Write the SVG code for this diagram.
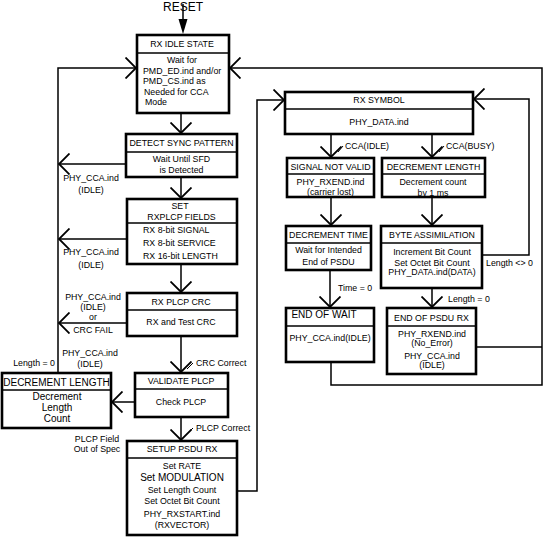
<svg xmlns="http://www.w3.org/2000/svg" width="545" height="537" viewBox="0 0 545 537">
<defs>
<style>
.box{fill:#fff;stroke:#000;stroke-width:2.6}
.div{stroke:#000;stroke-width:1.4}
.ln{fill:none;stroke:#000;stroke-width:1.5}
.ar{fill:none;stroke:#000;stroke-width:1.5;marker-end:url(#v)}
text{font-family:"Liberation Sans",Arial,sans-serif;font-size:8.8px;fill:#000}
.c{text-anchor:middle}
.big{font-size:10px}
</style>
<marker id="v" viewBox="0 0 12 22" refX="11" refY="11" markerWidth="12" markerHeight="22" markerUnits="userSpaceOnUse" orient="auto">
<path d="M0.5,0.5 L11,11 L0.5,21.5" fill="none" stroke="#000" stroke-width="1.8"/>
</marker>
</defs>
<rect width="545" height="537" fill="#fff"/>

<g id="connectors">
<text x="183" y="11" class="c" style="font-size:12px">RESET</text>
<line x1="183" y1="4" x2="183" y2="22" class="ln"/>
<polygon points="178.5,19 187.5,19 183,34" fill="#000"/>
<line x1="181" y1="113" x2="181" y2="133" class="ar"/>
<line x1="181" y1="177" x2="181" y2="198" class="ar"/>
<line x1="181" y1="264" x2="181" y2="292" class="ar"/>
<line x1="181" y1="336" x2="181" y2="372" class="ar"/>
<line x1="181" y1="417" x2="181" y2="440" class="ar"/>
<line x1="135" y1="402" x2="112" y2="402" class="ar"/>
<line x1="126" y1="164" x2="59" y2="164" class="ar"/>
<line x1="127" y1="239" x2="59" y2="239" class="ar"/>
<line x1="127" y1="323" x2="59" y2="323" class="ar"/>
<polyline points="58,372 58,68 136,68" class="ar"/>
<polyline points="237,491 257,491 257,100 284,100" class="ar"/>
<line x1="331" y1="134" x2="331" y2="157" class="ar"/>
<line x1="432" y1="134" x2="432" y2="157" class="ar"/>
<line x1="331" y1="197" x2="331" y2="225" class="ar"/>
<line x1="432" y1="197" x2="432" y2="225" class="ar"/>
<line x1="330" y1="270" x2="330" y2="307" class="ar"/>
<line x1="432" y1="288" x2="432" y2="307" class="ar"/>
<polyline points="482,255 529,255 529,99 474,99" class="ar"/>
<polyline points="331,362 331,385 542,385 542,68 230,68" class="ar"/>
<line x1="476" y1="347" x2="542" y2="347" class="ln"/>
<line x1="338" y1="152" x2="343" y2="146" class="ln" style="stroke-width:1"/>
<line x1="439" y1="152" x2="444" y2="146" class="ln" style="stroke-width:1"/>
<line x1="187" y1="369" x2="193" y2="363" class="ln" style="stroke-width:1"/>
<line x1="187" y1="434" x2="193" y2="428" class="ln" style="stroke-width:1"/>
<text x="345" y="149">CCA(IDLE)</text>
<text x="446" y="149">CCA(BUSY)</text>
<text x="91" y="181" class="c">PHY_CCA.ind</text>
<text x="91" y="193" class="c">(IDLE)</text>
<text x="91" y="255" class="c">PHY_CCA.ind</text>
<text x="91" y="268" class="c">(IDLE)</text>
<text x="93" y="300" class="c">PHY_CCA.ind</text>
<text x="93" y="310" class="c">(IDLE)</text>
<text x="93" y="320" class="c">or</text>
<text x="93" y="333" class="c">CRC FAIL</text>
<text x="55" y="366" style="text-anchor:end">Length = 0</text>
<text x="90" y="356" class="c">PHY_CCA.ind</text>
<text x="90" y="367" class="c">(IDLE)</text>
<text x="196" y="366">CRC Correct</text>
<text x="196" y="431">PLCP Correct</text>
<text x="97" y="442" class="c">PLCP Field</text>
<text x="97" y="452" class="c">Out of Spec</text>
<text x="338" y="291">Time = 0</text>
<text x="448" y="302">Length = 0</text>
<text x="486" y="266">Length &lt;&gt; 0</text>
</g>

<g id="rx-idle-state">
<rect x="137" y="35" width="92" height="78" class="box"/>
<line x1="137" y1="53" x2="229" y2="53" class="div"/>
<text x="182" y="47" class="c">RX IDLE STATE</text>
<text x="182" y="63" class="c">Wait for</text>
<text x="143" y="73.5">PMD_ED.ind and/or</text>
<text x="143" y="84">PMD_CS.ind as</text>
<text x="144" y="95">Needed for CCA</text>
<text x="145" y="105">Mode</text>
</g>

<g id="detect-sync-pattern">
<rect x="126" y="134" width="111" height="43" class="box"/>
<line x1="126" y1="152" x2="237" y2="152" class="div"/>
<text x="181.5" y="146" class="c">DETECT SYNC PATTERN</text>
<text x="181.5" y="162" class="c">Wait Until SFD</text>
<text x="181.5" y="173" class="c">is Detected</text>
</g>

<g id="set-rxplcp-fields">
<rect x="127" y="199" width="110" height="65" class="box"/>
<line x1="127" y1="223" x2="237" y2="223" class="div"/>
<text x="180" y="209" class="c">SET</text>
<text x="181.5" y="219.5" class="c">RXPLCP FIELDS</text>
<text x="143" y="233">RX 8-bit SIGNAL</text>
<text x="143" y="246">RX 8-bit SERVICE</text>
<text x="143" y="259">RX 16-bit LENGTH</text>
</g>

<g id="rx-plcp-crc">
<rect x="127" y="293" width="110" height="43" class="box"/>
<line x1="127" y1="310" x2="237" y2="310" class="div"/>
<text x="181" y="305" class="c">RX PLCP CRC</text>
<text x="181" y="325" class="c">RX and Test CRC</text>
</g>

<g id="validate-plcp">
<rect x="135" y="373" width="93" height="44" class="box"/>
<line x1="135" y1="389" x2="228" y2="389" class="div"/>
<text x="181" y="384" class="c">VALIDATE PLCP</text>
<text x="181" y="405" class="c">Check PLCP</text>
</g>

<g id="decrement-length-left">
<rect x="2" y="373" width="109" height="55" class="box"/>
<line x1="2" y1="390" x2="111" y2="390" class="div"/>
<text x="56.5" y="386" class="c big">DECREMENT LENGTH</text>
<text x="57" y="400" class="c big">Decrement</text>
<text x="57" y="411" class="c big">Length</text>
<text x="57" y="422" class="c big">Count</text>
</g>

<g id="setup-psdu-rx">
<rect x="127" y="441" width="110" height="94" class="box"/>
<line x1="127" y1="458" x2="237" y2="458" class="div"/>
<text x="182" y="452" class="c">SETUP PSDU RX</text>
<text x="182" y="469" class="c">Set RATE</text>
<text x="182" y="481" class="c big">Set MODULATION</text>
<text x="182" y="493" class="c">Set Length Count</text>
<text x="182" y="504" class="c">Set Octet Bit Count</text>
<text x="182" y="517" class="c">PHY_RXSTART.ind</text>
<text x="182" y="528" class="c">(RXVECTOR)</text>
</g>

<g id="rx-symbol">
<rect x="285" y="92" width="188" height="42" class="box"/>
<line x1="285" y1="109" x2="473" y2="109" class="div"/>
<text x="379" y="103" class="c">RX SYMBOL</text>
<text x="379" y="125" class="c">PHY_DATA.ind</text>
</g>

<g id="signal-not-valid">
<rect x="287" y="158" width="87" height="39" class="box"/>
<line x1="287" y1="174" x2="374" y2="174" class="div"/>
<text x="330.5" y="170" class="c">SIGNAL NOT VALID</text>
<text x="330.5" y="185" class="c">PHY_RXEND.ind</text>
<text x="330.5" y="195" class="c">(carrier lost)</text>
</g>

<g id="decrement-length-right">
<rect x="382" y="158" width="103" height="39" class="box"/>
<line x1="382" y1="174" x2="485" y2="174" class="div"/>
<text x="433.5" y="170" class="c">DECREMENT LENGTH</text>
<text x="433" y="185" class="c">Decrement count</text>
<text x="433" y="196" class="c">by 1 ms</text>
</g>

<g id="decrement-time">
<rect x="286" y="226" width="85" height="44" class="box"/>
<line x1="286" y1="243" x2="371" y2="243" class="div"/>
<text x="328.5" y="238" class="c">DECREMENT TIME</text>
<text x="328.5" y="253" class="c">Wait for Intended</text>
<text x="328.5" y="265" class="c">End of PSDU</text>
</g>

<g id="byte-assimilation">
<rect x="381" y="226" width="101" height="62" class="box"/>
<line x1="381" y1="243" x2="482" y2="243" class="div"/>
<text x="432" y="238" class="c">BYTE ASSIMILATION</text>
<text x="432" y="255" class="c">Increment Bit Count</text>
<text x="432" y="266" class="c">Set Octet Bit Count</text>
<text x="432" y="275" class="c">PHY_DATA.ind(DATA)</text>
</g>

<g id="end-of-wait">
<rect x="286" y="308" width="88" height="54" class="box"/>
<line x1="286" y1="326" x2="374" y2="326" class="div"/>
<text x="324" y="318" class="c big">END OF WAIT</text>
<text x="330" y="341" class="c">PHY_CCA.ind(IDLE)</text>
</g>

<g id="end-of-psdu-rx">
<rect x="387" y="308" width="89" height="66" class="box"/>
<line x1="387" y1="326" x2="476" y2="326" class="div"/>
<text x="431.5" y="321" class="c">END OF PSDU RX</text>
<text x="432" y="337" class="c">PHY_RXEND.ind</text>
<text x="432" y="346" class="c">(No_Error)</text>
<text x="432" y="359" class="c">PHY_CCA.ind</text>
<text x="432" y="368" class="c">(IDLE)</text>
</g>
</svg>
